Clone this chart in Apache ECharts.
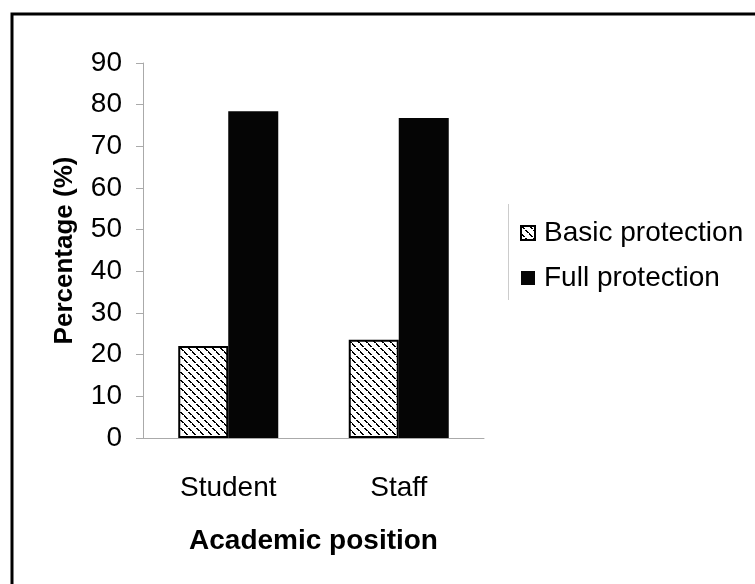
<!DOCTYPE html>
<html>
<head>
<meta charset="utf-8">
<script src="https://cdn.jsdelivr.net/npm/echarts@6/dist/echarts.min.js"></script>
<style>
  html, body { margin: 0; padding: 0; background: #fff; }
  #chart { width: 755px; height: 584px; }
</style>
</head>
<body>
<div id="chart"></div>
<script>
// academic position vs protection level
const categories = ['Student', 'Staff'];
const basicValues = [22.1, 23.6];
const fullValues = [78.4, 76.8];
const yTicks = [0, 90, 10]; // min, max, interval

const fontFamily = '"Liberation Sans", Arial, sans-serif';

// small hatch tile for the "Basic protection" bars
function makeHatch() {
  const c = document.createElement('canvas');
  c.width = 8;
  c.height = 8;
  const ctx = c.getContext('2d');
  ctx.fillStyle = '#fff';
  ctx.fillRect(0, 0, 8, 8);
  ctx.fillStyle = '#000';
  for (let i = 0; i < 8; i++) {
    if (i % 4 === 3) continue;
    ctx.fillRect(i, i, 2, 1);
  }
  ctx.fillRect(0, 7, 1, 1);
  return c;
}

const myChart = echarts.init(document.getElementById('chart'));

const option = {
  backgroundColor: '#fff',
  animation: false,
  textStyle: { fontFamily: fontFamily, color: '#000' },
  grid: { left: 143, right: 271, top: 63, bottom: 146 },
  legend: {
    orient: 'vertical',
    left: 515,
    top: 214,
    icon: 'rect',
    itemWidth: 14,
    itemHeight: 14,
    itemGap: 17,
    textStyle: { fontSize: 28, color: '#000', fontFamily: fontFamily, padding: [0, 0, 0, 4] },
    data: ['Basic protection', 'Full protection'],
  },
  xAxis: {
    type: 'category',
    data: categories,
    name: 'Academic position',
    nameLocation: 'middle',
    nameGap: 89,
    nameTextStyle: { fontSize: 28, fontWeight: 'bold', color: '#000' },
    axisLine: { lineStyle: { color: '#aaa', width: 1 } },
    axisTick: { length: 8, lineStyle: { color: '#aaa' } },
    axisLabel: { fontSize: 28, color: '#000', margin: 36 },
  },
  yAxis: {
    type: 'value',
    min: yTicks[0],
    max: yTicks[1],
    interval: yTicks[2],
    name: 'Percentage (%)',
    nameLocation: 'middle',
    nameGap: 65,
    nameTextStyle: { fontSize: 26, fontWeight: 'bold', color: '#000' },
    axisLine: { show: true, lineStyle: { color: '#aaa', width: 1 } },
    axisTick: { show: true, length: 7, lineStyle: { color: '#aaa' } },
    axisLabel: { fontSize: 28, color: '#000', margin: 21 },
    splitLine: { show: false },
  },
  series: [
    {
      name: 'Basic protection',
      type: 'bar',
      barWidth: 50,
      barGap: '0%',
      data: basicValues,
      itemStyle: {
        color: { image: makeHatch(), repeat: 'repeat' },
        borderColor: '#000',
        borderWidth: 2,
      },
    },
    {
      name: 'Full protection',
      type: 'bar',
      barWidth: 50,
      data: fullValues,
      itemStyle: { color: '#050505' },
    },
  ],
  graphic: [
    {
      type: 'rect',
      shape: { x: 12, y: 14, width: 800, height: 700 },
      style: { fill: 'none', stroke: '#000', lineWidth: 3 },
    },
    {
      type: 'line',
      shape: { x1: 508.5, y1: 204, x2: 508.5, y2: 300 },
      style: { stroke: '#ccc', lineWidth: 1 },
    },
  ],
};

myChart.setOption(option);
</script>
</body>
</html>
